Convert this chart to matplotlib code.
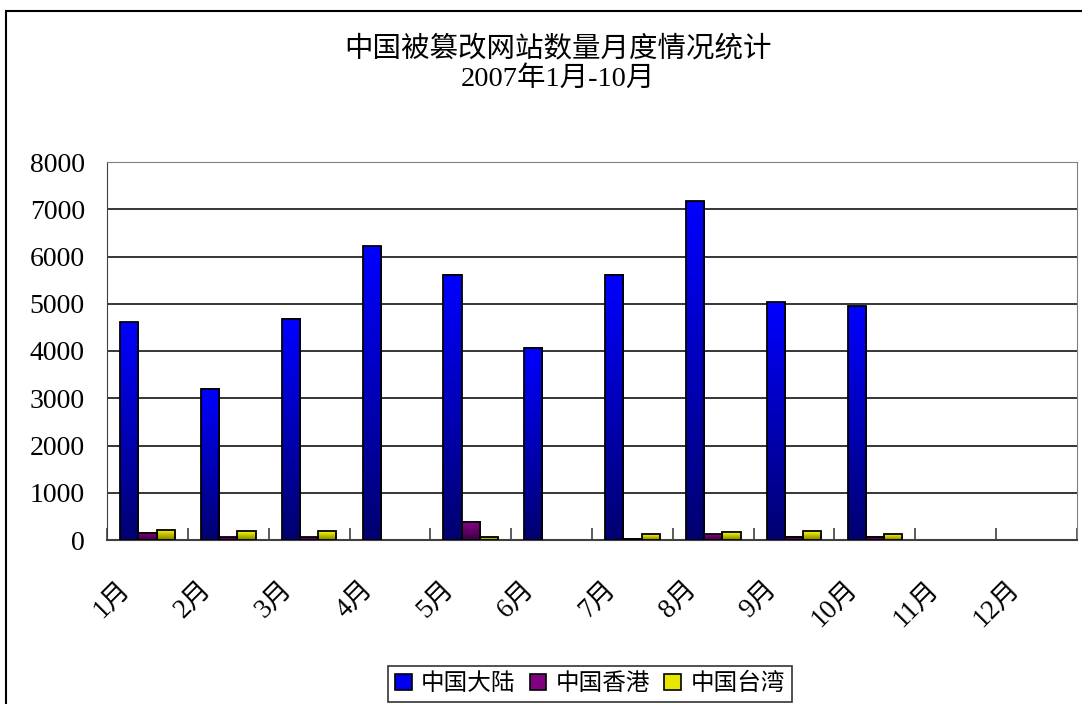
import numpy as np
import matplotlib
matplotlib.use("Agg")
import matplotlib.pyplot as plt
import matplotlib.transforms as mtransforms
from matplotlib.patches import Rectangle
from matplotlib.colors import LinearSegmentedColormap

plt.rcParams["font.family"] = ["Liberation Serif", "Noto Sans CJK SC"]

months = ["1月", "2月", "3月", "4月", "5月", "6月", "7月", "8月", "9月", "10月", "11月", "12月"]
mainland = [4610, 3200, 4680, 6220, 5610, 4070, 5610, 7170, 5030, 4950, 0, 0]
hongkong = [150, 60, 60, 0, 390, 0, 30, 120, 70, 70, 0, 0]
taiwan = [220, 190, 190, 0, 70, 0, 120, 160, 190, 120, 0, 0]
series_names = ["中国大陆", "中国香港", "中国台湾"]

# gradients: bright at the top, dark at the bottom
grads = [("#000070", "#0000ff"), ("#3a0040", "#8a008a"), ("#808000", "#ffff00")]
solid = ["#0000ee", "#800080", "#e6e600"]

fig = plt.figure(figsize=(10.82, 7.04), dpi=100)

# outer chart frame (cropped on the right and bottom)
fig.patches.append(Rectangle((5.5 / 1082, -0.05), 1.2, 1 - 10.5 / 704 + 0.05,
                             transform=fig.transFigure, fill=False,
                             edgecolor="black", linewidth=1.5, zorder=1))

ax = fig.add_axes([107 / 1082, (704 - 540) / 704, (1077 - 107) / 1082, (540 - 162) / 704])
ax.patch.set_alpha(0)

x = np.arange(len(months))
w = 0.225
for i, vals in enumerate([mainland, hongkong, taiwan]):
    cmap = LinearSegmentedColormap.from_list("g%d" % i, grads[i])
    bars = ax.bar(x + (i - 1) * w, vals, width=w, facecolor="none",
                  edgecolor="black", linewidth=1.3, zorder=4)
    for b, v in zip(bars, vals):
        if v <= 0:
            b.set_linewidth(0)
            continue
        ax.imshow(np.linspace(0, 1, 100).reshape(-1, 1), cmap=cmap, origin="lower",
                  extent=[b.get_x(), b.get_x() + w, 0, v], aspect="auto", zorder=3)

ax.set_xlim(-0.5, 11.5)
ax.set_ylim(0, 8000)
ax.set_yticks(range(0, 8001, 1000))
ax.yaxis.grid(True, color="black", linewidth=1.1)
ax.set_axisbelow(True)
for s in ["top", "right"]:
    ax.spines[s].set_color("#808080")
ax.spines["left"].set_color("#404040")
ax.spines["bottom"].set_color("#404040")
ax.spines["bottom"].set_linewidth(1.5)

ax.tick_params(axis="y", labelsize=20, length=0, pad=16)
ax.set_xticks(x)
ax.set_xticklabels(months, rotation=45, ha="right", fontsize=19.5)
ax.tick_params(axis="x", length=0, pad=26)
ax.set_xticks(np.arange(-0.5, 12, 1), minor=True)
ax.tick_params(axis="x", which="minor", direction="in", length=9, width=1.2, color="#404040")
offset = mtransforms.ScaledTranslation(-12 / 100, 0, fig.dpi_scale_trans)
for lab in ax.get_xticklabels():
    lab.set_transform(lab.get_transform() + offset)

fig.text(558 / 1082, 1 - 64 / 704, "中国被篡改网站数量月度情况统计\n2007年1月-10月",
         ha="center", va="center", fontsize=20.5, linespacing=1.2)

handles = [Rectangle((0, 0), 1, 1, facecolor=c, edgecolor="black", linewidth=1.2) for c in solid]
leg = fig.legend(handles, series_names, loc="center", bbox_to_anchor=(590 / 1082, 1 - 684 / 704),
                 ncol=3, fontsize=17, frameon=True, fancybox=False, edgecolor="black",
                 handlelength=0.7, handleheight=0.7, handletextpad=0.4, columnspacing=0.6,
                 borderpad=0.3)
leg.get_frame().set_linewidth(1.2)

fig.savefig("out.png", dpi=100)
